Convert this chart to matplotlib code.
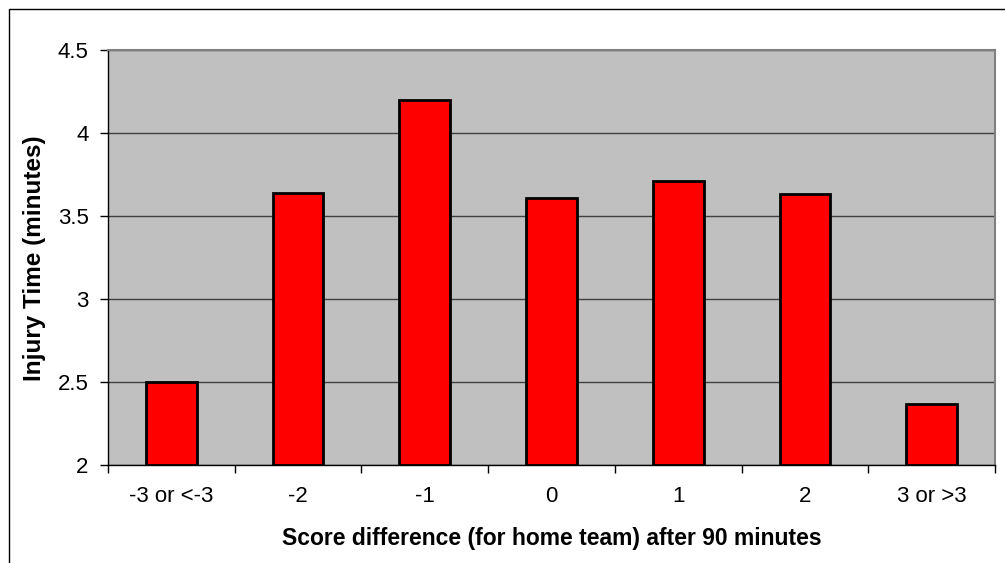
import matplotlib
matplotlib.use("Agg")
import matplotlib.pyplot as plt
from matplotlib.patches import Rectangle
import numpy as np

categories = ["-3 or <-3", "-2", "-1", "0", "1", "2", "3 or >3"]
values = [2.50, 3.64, 4.20, 3.61, 3.71, 3.63, 2.37]
y_ticks = [2, 2.5, 3, 3.5, 4, 4.5]
y_tick_labels = ["2", "2.5", "3", "3.5", "4", "4.5"]

W, H = 1005, 563
fig = plt.figure(figsize=(W / 100, H / 100), dpi=100)
plt.rcParams['font.family'] = ['Liberation Sans', 'DejaVu Sans']

# outer chart border (extends beyond the visible image on right/bottom)
fig.add_artist(Rectangle((9 / W, -0.1), 1.2, 1 - 9 / H + 0.1, transform=fig.transFigure,
                         fill=False, edgecolor='black', linewidth=1.0))

left, right, top, bottom = 108, 995, 50, 465
ax = fig.add_axes([left / W, 1 - bottom / H, (right - left) / W, (bottom - top) / H])
ax.set_facecolor('#C0C0C0')

x = np.arange(len(categories))
ax.bar(x, np.array(values) - 2, bottom=2, width=0.4, color='#FF0000',
       edgecolor='black', linewidth=2, zorder=3)

ax.set_xlim(-0.5, len(categories) - 0.5)
ax.set_ylim(2, 4.5)
ax.set_yticks(y_ticks)
ax.set_yticklabels(y_tick_labels, fontsize=16)
ax.yaxis.grid(True, color='#404040', linewidth=1.0, zorder=1)
ax.set_axisbelow(True)

ax.set_xticks(np.arange(len(categories) + 1) - 0.5)
ax.set_xticklabels([])
ax.set_xticks(x, minor=True)
ax.set_xticklabels(categories, minor=True, fontsize=16)
ax.tick_params(axis='x', which='major', direction='out', length=6, width=1, color='black')
ax.tick_params(axis='x', which='minor', length=0, pad=15)
ax.tick_params(axis='y', direction='out', length=6, width=1, color='black', pad=8)

for s in ['left', 'bottom']:
    ax.spines[s].set_color('black')
    ax.spines[s].set_linewidth(1)
for s in ['top', 'right']:
    ax.spines[s].set_color('#808080')
    ax.spines[s].set_linewidth(1.5)

fig.text((left + right) / 2 / W, 1 - 538 / H, "Score difference (for home team) after 90 minutes",
         ha='center', va='center', fontsize=16.5, fontweight='bold')
fig.text(35 / W, 1 - 258 / H, "Injury Time (minutes)", rotation=90,
         ha='center', va='center', fontsize=17.5, fontweight='bold')

fig.savefig("out.png", dpi=100)
